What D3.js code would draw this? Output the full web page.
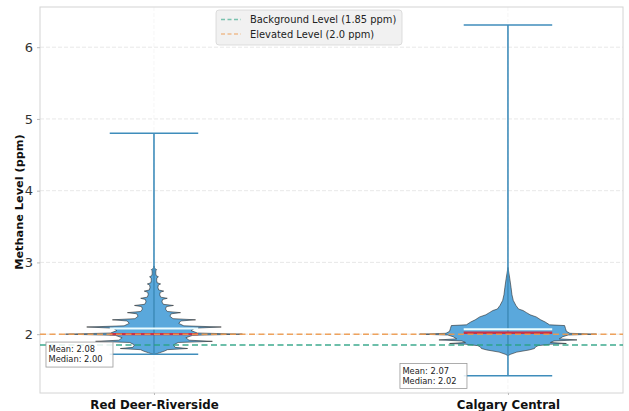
<!DOCTYPE html>
<html><head><meta charset="utf-8">
<script src="https://cdn.jsdelivr.net/npm/d3@7"></script>
<style>body{margin:0;background:#fff;} text{font-family:"DejaVu Sans",sans-serif;}</style>
</head><body>
<svg id="c" width="629" height="411"></svg>
<script>
// ---- data ----
const categories = ["Red Deer-Riverside", "Calgary Central"];
const positions = [1, 2];
const mins = [1.72, 1.42];
const maxs = [4.80, 6.31];
const means = [2.08, 2.07];
const medians = [2.00, 2.02];
const meanLabels = ["2.08", "2.07"];
const medianLabels = ["2.00", "2.02"];
const yTicks = [2, 3, 4, 5, 6];
const refLines = [
  {value: 1.85, label: "Background Level (1.85 ppm)", color: "#2aa383"},
  {value: 2.0,  label: "Elevated Level (2.0 ppm)",    color: "#ee9a4d"}
];
// Red Deer: spiky density (peaks at 0.1 levels, valleys between)
const rdLevels  = [1.8, 1.9, 2.0, 2.1, 2.2, 2.3, 2.4, 2.5, 2.6, 2.7, 2.8, 2.9];
const rdPeaks   = [0.38, 0.66, 1.0, 0.76, 0.47, 0.30, 0.22, 0.15, 0.11, 0.075, 0.05, 0.03];
const rdValleys = [0.22, 0.36, 0.42, 0.28, 0.18, 0.13, 0.09, 0.065, 0.045, 0.03, 0.02];
const rdBottom  = [[1.72, 0.01], [1.74, 0.06], [1.765, 0.12]];
const rdTop     = [[2.93, 0.005], [2.95, 0]];
// Calgary: density profile [value, relative half-width]
const cgProfile = [
  [1.70, 0.0], [1.72, 0.03], [1.75, 0.10], [1.78, 0.24], [1.80, 0.30], [1.82, 0.31],
  [1.84, 0.34], [1.86, 0.48], [1.87, 0.66], [1.885, 0.48], [1.905, 0.52], [1.92, 0.78],
  [1.935, 0.58], [1.965, 0.62], [1.988, 0.68], [2.0, 1.0], [2.012, 0.70], [2.04, 0.66],
  [2.08, 0.65], [2.12, 0.64], [2.13, 0.47], [2.17, 0.42], [2.20, 0.37], [2.24, 0.32],
  [2.27, 0.25], [2.30, 0.21], [2.33, 0.17], [2.35, 0.12], [2.40, 0.09], [2.47, 0.06],
  [2.55, 0.045], [2.65, 0.035], [2.78, 0.02], [2.93, 0.0]
];

// ---- layout ----
const svg = d3.select("#c");
const L = 40, R = 623, T = 7, B = 393;
const x = d3.scaleLinear().domain([0.678, 2.325]).range([L, R]);
const y = d3.scaleLinear().domain([1.18, 6.56]).range([B, T]);
const halfW = 0.25, capW = 0.125;

// grid
const g = svg.append("g");
g.selectAll(".gy").data(yTicks).enter().append("line")
  .attr("x1", L).attr("x2", R).attr("y1", d => y(d)).attr("y2", d => y(d))
  .attr("stroke", "#e2e2e2").attr("stroke-width", 0.8).attr("stroke-dasharray", "4,2");
g.selectAll(".gx").data(positions).enter().append("line")
  .attr("y1", T).attr("y2", B).attr("x1", d => x(d)).attr("x2", d => x(d))
  .attr("stroke", "#f2f2f2").attr("stroke-width", 0.8).attr("stroke-dasharray", "4,2");

// frame
svg.append("rect").attr("x", L).attr("y", T).attr("width", R - L).attr("height", B - T)
  .attr("fill", "none").attr("stroke", "#d4d4d4").attr("stroke-width", 1);

// y axis
const yAxis = d3.axisLeft(y).tickValues(yTicks).tickSize(3).tickPadding(4).tickFormat(d3.format("d"));
const ya = svg.append("g").attr("transform", `translate(${L},0)`).call(yAxis);
ya.select(".domain").remove();
ya.selectAll("line").attr("stroke", "#bbb");
ya.selectAll("text").attr("font-size", 13).attr("fill", "#333").style("font-family", "DejaVu Sans");

// x axis
const xAxis = d3.axisBottom(x).tickValues(positions).tickSize(2).tickPadding(6).tickFormat((d, i) => categories[i]);
const xa = svg.append("g").attr("transform", `translate(0,${B})`).call(xAxis);
xa.select(".domain").remove();
xa.selectAll("line").attr("stroke", "#bbb");
xa.selectAll("text").attr("font-size", 11.8).attr("font-weight", "bold").attr("fill", "#111")
  .style("font-family", "DejaVu Sans");

svg.append("text").attr("transform", `translate(23,${(T + B) / 2 + 2}) rotate(-90)`)
  .attr("text-anchor", "middle").attr("font-size", 11.3).attr("font-weight", "bold")
  .attr("fill", "#111").text("Methane Level (ppm)");

// build Red Deer outline from peaks & valleys
function spikyProfile(levels, peaks, valleys, bottom, top) {
  const pts = bottom.slice();
  levels.forEach((v, i) => {
    const lo = i > 0 ? valleys[i - 1] : bottom[bottom.length - 1][1];
    const hi = i < valleys.length ? valleys[i] : top[0][1];
    if (i > 0) pts.push([v - 0.05, lo]);
    pts.push([v - 0.016, lo + 0.12 * (peaks[i] - lo)]);
    pts.push([v, peaks[i]]);
    pts.push([v + 0.016, hi + 0.12 * (peaks[i] - hi)]);
  });
  return pts.concat(top);
}
const profiles = [spikyProfile(rdLevels, rdPeaks, rdValleys, rdBottom, rdTop), cgProfile];

const area = (pos) => d3.area()
  .y(d => y(d[0]))
  .x0(d => x(pos - halfW * d[1]))
  .x1(d => x(pos + halfW * d[1]))
  .curve(d3.curveLinear);

profiles.forEach((p, i) => {
  svg.append("path").datum(p).attr("d", area(positions[i]))
    .attr("fill", "#5aa8dc").attr("stroke", "#2b2b2b").attr("stroke-opacity", 0.6)
    .attr("stroke-width", 1).attr("stroke-linejoin", "miter");
});

const whisk = "#3f8dbb";
positions.forEach((pos, i) => {
  svg.append("line").attr("x1", x(pos)).attr("x2", x(pos)).attr("y1", y(mins[i])).attr("y2", y(maxs[i]))
    .attr("stroke", whisk).attr("stroke-width", 1.6);
  [mins[i], maxs[i]].forEach(v => {
    svg.append("line").attr("x1", x(pos - capW)).attr("x2", x(pos + capW)).attr("y1", y(v)).attr("y2", y(v))
      .attr("stroke", whisk).attr("stroke-width", 1.6);
  });
  svg.append("line").attr("x1", x(pos - capW)).attr("x2", x(pos + capW)).attr("y1", y(means[i])).attr("y2", y(means[i]))
    .attr("stroke", "#eafcff").attr("stroke-width", 2);
  svg.append("line").attr("x1", x(pos - capW)).attr("x2", x(pos + capW)).attr("y1", y(medians[i])).attr("y2", y(medians[i]))
    .attr("stroke", "#c8324a").attr("stroke-width", 2.4);
});

// reference lines
refLines.forEach(r => {
  svg.append("line").attr("x1", L).attr("x2", R).attr("y1", y(r.value)).attr("y2", y(r.value))
    .attr("stroke", r.color).attr("stroke-width", 1.5).attr("stroke-dasharray", "6,3.5").attr("opacity", 0.9);
});

// annotations
positions.forEach((pos, i) => {
  const bx = x(pos) - 108, by = y(mins[i] + 0.17);
  const ga = svg.append("g");
  ga.append("rect").attr("x", bx).attr("y", by).attr("width", 67).attr("height", 25)
    .attr("fill", "#fff").attr("fill-opacity", 0.85).attr("stroke", "#999").attr("stroke-width", 0.8);
  ga.append("text").attr("x", bx + 2.5).attr("y", by + 10).attr("font-size", 8.3).attr("fill", "#222")
    .text("Mean: " + meanLabels[i]);
  ga.append("text").attr("x", bx + 2.5).attr("y", by + 20).attr("font-size", 8.3).attr("fill", "#222")
    .text("Median: " + medianLabels[i]);
});

// legend
const lg = svg.append("g").attr("transform", "translate(216,10)");
lg.append("rect").attr("width", 186).attr("height", 35).attr("rx", 3)
  .attr("fill", "#f1f1f1").attr("stroke", "#d6d6d6").attr("stroke-width", 0.8);
refLines.forEach((r, i) => {
  lg.append("line").attr("x1", 5).attr("x2", 25).attr("y1", 9.5 + i * 14.5).attr("y2", 9.5 + i * 14.5)
    .attr("stroke", r.color).attr("stroke-width", 1.5).attr("stroke-dasharray", "4,2.5").attr("opacity", 0.6);
  lg.append("text").attr("x", 34).attr("y", 13 + i * 14.5).attr("font-size", 9.9).attr("fill", "#222").text(r.label);
});
</script>
</body></html>
